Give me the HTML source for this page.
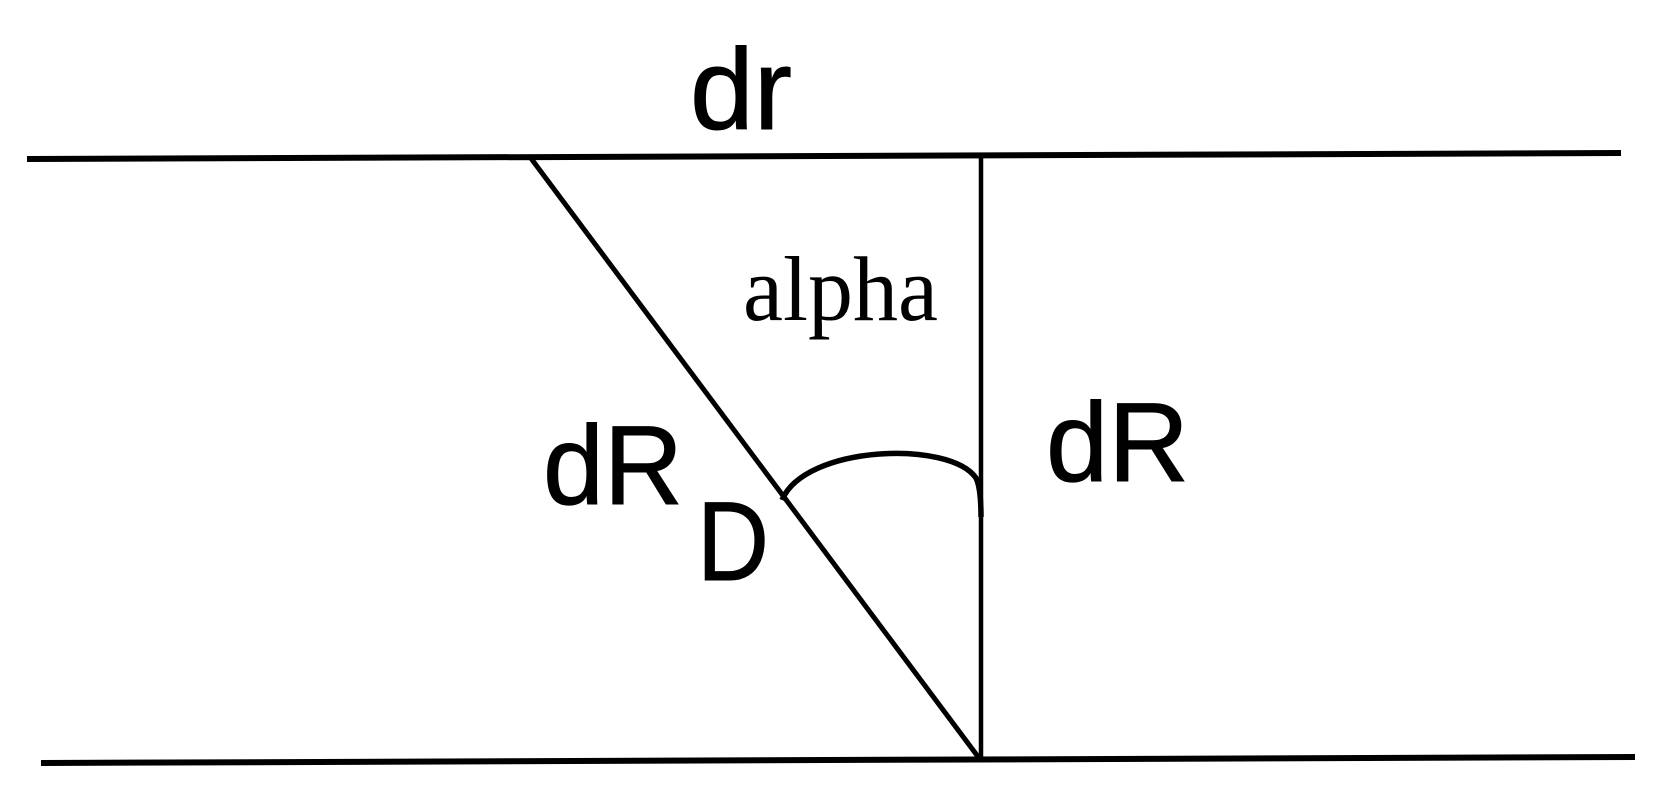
<!DOCTYPE html>
<html><head><meta charset="utf-8"><style>html,body{margin:0;padding:0;background:#fff;width:1678px;height:808px;overflow:hidden}</style></head>
<body>
<svg width="1678" height="808" viewBox="0 0 1678 808" xmlns="http://www.w3.org/2000/svg">
<g stroke="#000" fill="none" stroke-linecap="butt">
<line x1="27" y1="159" x2="1621" y2="153" stroke-width="6"/>
<line x1="41" y1="763" x2="1635" y2="757" stroke-width="6"/>
<line x1="530" y1="157" x2="979" y2="758" stroke-width="5"/>
<line x1="981" y1="157" x2="981" y2="758" stroke-width="4.5"/>
<path d="M782,500 C805,445 950,440 976,478 Q981,488 981,517" stroke-width="5.5"/>
</g>
<g font-family="Liberation Sans, sans-serif" fill="#000" stroke="#000" stroke-width="1">
<text x="690" y="129" font-size="115" textLength="102" lengthAdjust="spacingAndGlyphs">dr</text>
<text x="543" y="504" font-size="112" textLength="140" lengthAdjust="spacingAndGlyphs">dR</text>
<text x="697" y="580" font-size="112" textLength="72" lengthAdjust="spacingAndGlyphs">D</text>
<text x="1046" y="481" font-size="112" textLength="143" lengthAdjust="spacingAndGlyphs">dR</text>
</g>
<text x="743" y="320" font-family="Liberation Serif, serif" font-size="92" textLength="195" lengthAdjust="spacingAndGlyphs">alpha</text>
</svg>
</body></html>
